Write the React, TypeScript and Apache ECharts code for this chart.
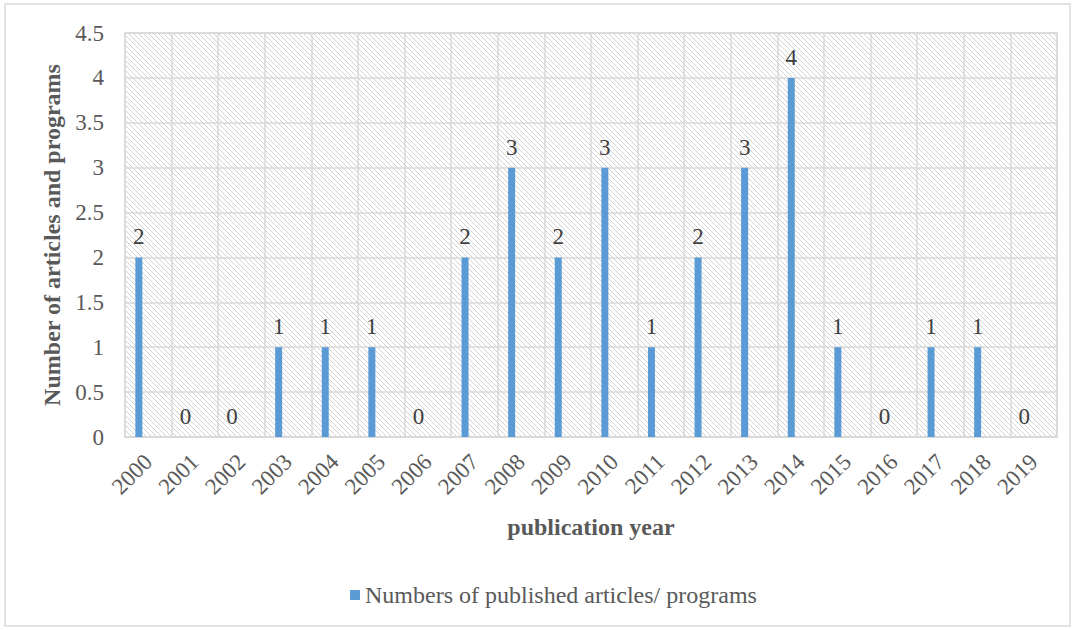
import React, { useEffect, useRef } from "react";
import * as echarts from "echarts";

const years = ["2000","2001","2002","2003","2004","2005","2006","2007","2008","2009","2010","2011","2012","2013","2014","2015","2016","2017","2018","2019"];
const counts = [2,0,0,1,1,1,0,2,3,2,3,1,2,3,4,1,0,1,1,0];
const seriesName = "Numbers of published articles/ programs";
const FONT = "'Liberation Serif', 'Times New Roman', serif";

function makeHatch(): HTMLCanvasElement {
  const c = document.createElement("canvas");
  c.width = 5;
  c.height = 5;
  const ctx = c.getContext("2d")!;
  ctx.fillStyle = "#ffffff";
  ctx.fillRect(0, 0, 5, 5);
  ctx.strokeStyle = "#d2d2d2";
  ctx.lineWidth = 1;
  ctx.beginPath();
  ctx.moveTo(-1, -1);
  ctx.lineTo(6, 6);
  ctx.moveTo(-1, 4);
  ctx.lineTo(1, 6);
  ctx.moveTo(4, -1);
  ctx.lineTo(6, 1);
  ctx.stroke();
  return c;
}

export default function App() {
  const ref = useRef<HTMLDivElement>(null);
  useEffect(() => {
    if (!ref.current) return;
    const chart = echarts.init(ref.current, null, { renderer: "svg" });
    const hatch = makeHatch();
    chart.setOption({
      animation: false,
      backgroundColor: "#ffffff",
      textStyle: { fontFamily: FONT },
      graphic: [
        {
          type: "rect",
          shape: { x: 5, y: 4, width: 1065, height: 622 },
          style: { fill: "none", stroke: "#d9d9d9", lineWidth: 1.5 },
          silent: true,
          z: -10,
        },
      ],
      grid: {
        left: 125,
        right: 18,
        top: 33,
        bottom: 193,
        show: true,
        backgroundColor: { image: hatch, repeat: "repeat" },
        borderColor: "#d9d9d9",
        borderWidth: 1.5,
      },
      legend: {
        data: [seriesName],
        left: 345,
        top: 578,
        icon: "rect",
        itemWidth: 10,
        itemHeight: 10,
        itemGap: 4,
        textStyle: { fontFamily: FONT, fontSize: 24, color: "#595959" },
      },
      xAxis: {
        type: "category",
        data: years,
        name: "publication year",
        nameLocation: "middle",
        nameGap: 78,
        nameTextStyle: { fontFamily: FONT, fontSize: 24, fontWeight: "bold", color: "#595959" },
        axisLine: { lineStyle: { color: "#d9d9d9", width: 1.5 } },
        axisTick: { show: false },
        axisLabel: { rotate: 45, fontFamily: FONT, fontSize: 23, color: "#595959", margin: 21, interval: 0 },
        splitLine: { show: true, lineStyle: { color: "#d9d9d9", width: 1.5 } },
      },
      yAxis: {
        type: "value",
        min: 0,
        max: 4.5,
        interval: 0.5,
        name: "Number of articles and programs",
        nameLocation: "middle",
        nameGap: 61,
        nameTextStyle: { fontFamily: FONT, fontSize: 24, fontWeight: "bold", color: "#595959" },
        axisLine: { show: false },
        axisTick: { show: false },
        axisLabel: { fontFamily: FONT, fontSize: 23, color: "#595959", margin: 21 },
        splitLine: { show: true, lineStyle: { color: "#d9d9d9", width: 1.5 } },
      },
      series: [
        {
          name: seriesName,
          type: "bar",
          data: counts,
          barWidth: 7,
          barGap: "170%",
          itemStyle: { color: "#5b9bd5" },
          label: {
            show: true,
            position: "top",
            distance: 9,
            fontFamily: FONT,
            fontSize: 23,
            color: "#404040",
          },
        },
        {
          name: "spacer",
          type: "bar",
          data: years.map(() => null),
          barWidth: 7,
          itemStyle: { color: "transparent" },
        },
      ],
    });
    return () => chart.dispose();
  }, []);
  return (
    <div
      ref={ref}
      style={{ position: "fixed", left: 0, top: 0, width: 1075, height: 630 }}
    />
  );
}
